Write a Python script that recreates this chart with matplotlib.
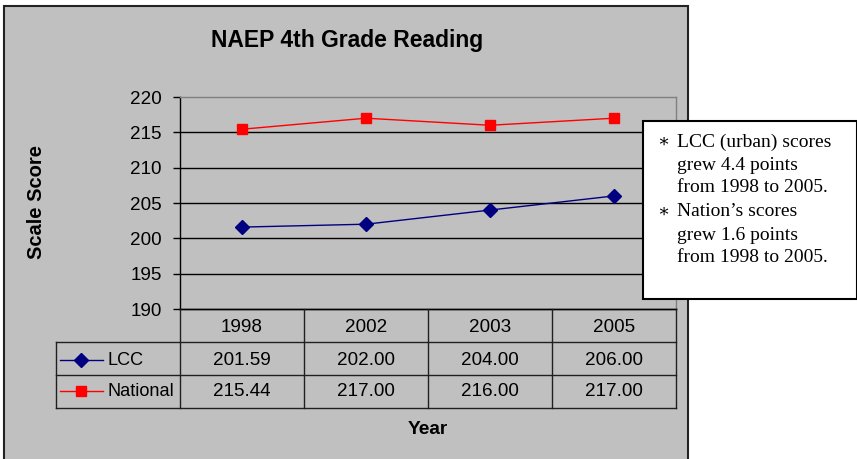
import matplotlib
matplotlib.use("Agg")
import matplotlib.pyplot as plt
from matplotlib.patches import Rectangle
import numpy as np

years = ["1998", "2002", "2003", "2005"]
lcc = [201.59, 202.00, 204.00, 206.00]
national = [215.44, 217.00, 216.00, 217.00]
series_names = ["LCC", "National"]
title = "NAEP 4th Grade Reading"
y_ticks = [190, 195, 200, 205, 210, 215, 220]
notes = [
    ["LCC (urban) scores", "grew 4.4 points", "from 1998 to 2005."],
    ["Nation\u2019s scores", "grew 1.6 points", "from 1998 to 2005."],
]

W, H = 857, 459
fig = plt.figure(figsize=(W / 100, H / 100), dpi=100)
fig.patch.set_facecolor("white")

def fx(x):
    return x / W

def fy(y):
    return 1 - y / H

SANS = ["Liberation Sans", "DejaVu Sans"]
SERIF = ["Liberation Serif", "DejaVu Serif"]
FS = 13.6

# chart background
fig.patches.append(Rectangle((fx(4), fy(470)), fx(688) - fx(4), fy(6) - fy(470),
                             transform=fig.transFigure, facecolor="#C0C0C0",
                             edgecolor="#222222", linewidth=1.5, zorder=-5))

fig.text(fx(347), fy(40), title, ha="center", va="center", fontsize=16.5,
         fontweight="bold", family=SANS)

# main plot area
L, R, T, B = 180, 676, 97, 309
ax = fig.add_axes([fx(L), fy(B), fx(R) - fx(L), fy(T) - fy(B)])
ax.set_zorder(2)
ax.set_facecolor("none")
x = np.arange(len(years)) + 0.5
ax.set_xlim(0, len(years))
ax.set_ylim(190, 220)
for v in y_ticks[1:-1]:
    ax.axhline(v, color="black", linewidth=1, zorder=1)
ax.plot(x, lcc, color="#000080", linewidth=1, marker="D", markersize=7,
        markerfacecolor="#000080", markeredgecolor="#000080", zorder=3, clip_on=False)
ax.plot(x, national, color="#FF0000", linewidth=1, marker="s", markersize=7.5,
        markerfacecolor="#FF0000", markeredgecolor="#FF0000", zorder=3, clip_on=False)
ax.set_yticks(y_ticks)
ax.set_yticklabels([str(v) for v in y_ticks], fontsize=FS, family=SANS)
ax.set_xticks([])
ax.tick_params(axis="y", direction="out", length=5, width=1, color="black", pad=8)
ax.spines["left"].set_color("black")
ax.spines["bottom"].set_color("black")
ax.spines["top"].set_color("#808080")
ax.spines["right"].set_color("#808080")
for s in ax.spines.values():
    s.set_linewidth(1)

fig.text(fx(37), fy(202), "Scale Score", rotation=90, ha="center", va="center",
         fontsize=14.5, fontweight="bold", family=SANS)

# data table
TL, TB = 56, 408
tax = fig.add_axes([fx(TL), fy(TB), fx(R) - fx(TL), fy(B) - fy(TB)])
tax.set_zorder(2)
tax.set_xlim(-1, len(years))
tax.set_ylim(3, 0)
tax.axis("off")
lc = "#202020"
tax.plot([0, len(years)], [0, 0], color="black", lw=1, clip_on=False)
for r in (1, 2, 3):
    tax.plot([-1, len(years)], [r, r], color=lc, lw=1, clip_on=False)
for c in range(0, len(years) + 1):
    tax.plot([c, c], [0, 3], color=lc, lw=1, clip_on=False)
tax.plot([-1, -1], [1, 3], color=lc, lw=1, clip_on=False)
for i, yr in enumerate(years):
    tax.text(i + 0.5, 0.55, yr, ha="center", va="center", fontsize=FS, family=SANS)
    tax.text(i + 0.5, 1.55, f"{lcc[i]:.2f}", ha="center", va="center", fontsize=FS, family=SANS)
    tax.text(i + 0.5, 2.5, f"{national[i]:.2f}", ha="center", va="center", fontsize=FS, family=SANS)
styles = [("#000080", "D", 7), ("#FF0000", "s", 7.5)]
for r, (name, (col, mk, ms)) in enumerate(zip(series_names, styles)):
    yy = 1.55 + r * 0.95
    tax.plot([-0.97, -0.62], [yy, yy], color=col, lw=1, clip_on=False)
    tax.plot([-0.8], [yy], marker=mk, color=col, markersize=ms, clip_on=False)
    tax.text(-0.585, yy, name, ha="left", va="center", fontsize=13.1, family=SANS)

fig.text(fx(428), fy(430), "Year", ha="center", va="center", fontsize=13.8,
         fontweight="bold", family=SANS)

# note box
box = Rectangle((fx(643), fy(299)), fx(856.5) - fx(643), fy(121) - fy(299),
                transform=fig.transFigure, facecolor="white",
                edgecolor="black", linewidth=1.5, zorder=10)
fig.patches.append(box)
line_y = [[142, 165, 188], [212, 235, 258]]
for block, ys in zip(notes, line_y):
    fig.text(fx(663), fy(ys[0]), "\u2217", ha="center", va="center", fontsize=13,
             family=SERIF, zorder=11)
    for txt, yy in zip(block, ys):
        fig.text(fx(677), fy(yy), txt, ha="left", va="center", fontsize=14,
                 family=SERIF, zorder=11)

fig.savefig("out.png", dpi=100)
